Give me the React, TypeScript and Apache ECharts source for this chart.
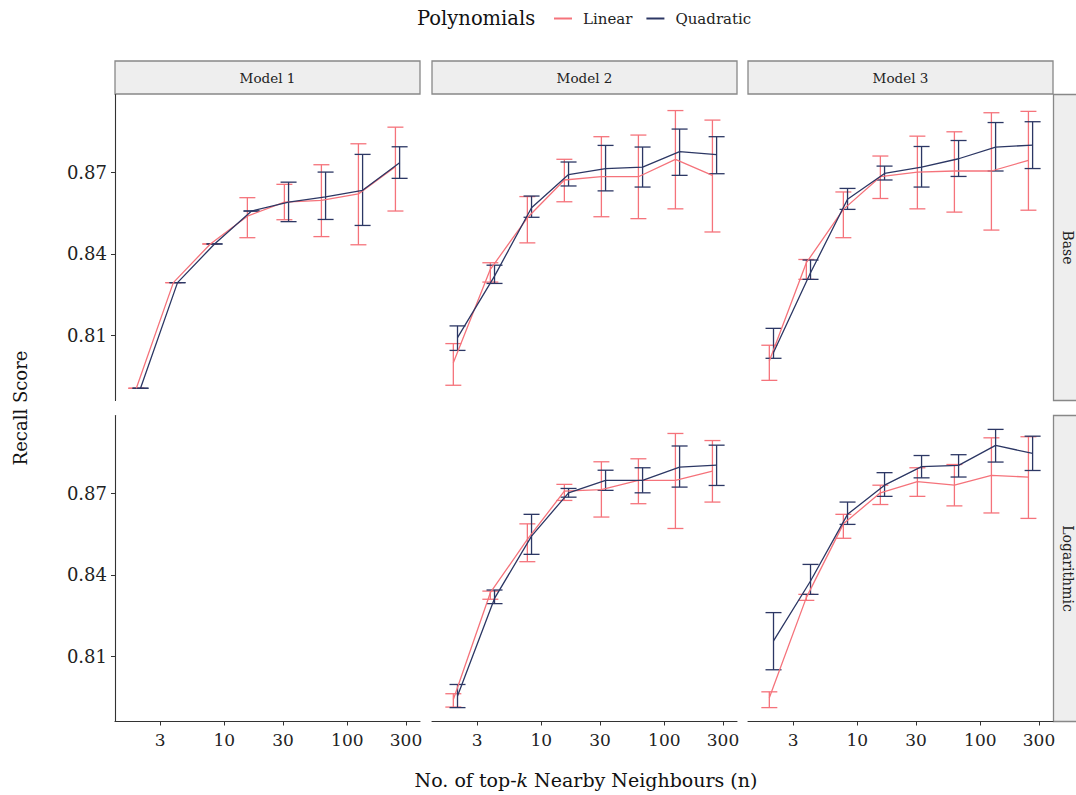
import React, { useEffect, useRef } from 'react';
import * as echarts from 'echarts';

const FONT = '"DejaVu Serif", "Liberation Serif", serif';

// ---- data ----
const kValues = [2, 4, 8, 16, 32, 64, 128, 256];
const modelNames = ['Model 1', 'Model 2', 'Model 3'];
const rowNames = ['Base', 'Logarithmic'];
const seriesNames = ['Linear', 'Quadratic'];
const seriesColors = ['#F5737B', '#2C3764'];
const xTickValues = [3, 10, 30, 100, 300];
const yTickValues = [0.81, 0.84, 0.87];
const xRangeK = [1.29, 390];
const yRange = [0.7861, 0.8985];

// Model 1 - Base
const m1BaseLinMean = [0.7906, 0.8294, 0.8436, 0.8538, 0.8590, 0.8596, 0.8620, 0.8720];
const m1BaseLinLo = [0.7906, 0.8294, 0.8436, 0.8459, 0.8525, 0.8463, 0.8433, 0.8557];
const m1BaseLinHi = [0.7906, 0.8294, 0.8436, 0.8606, 0.8655, 0.8727, 0.8804, 0.8865];
const m1BaseQuadMean = [0.7906, 0.8294, 0.8436, 0.8557, 0.8590, 0.8609, 0.8633, 0.8734];
const m1BaseQuadLo = [0.7906, 0.8294, 0.8436, 0.8557, 0.8518, 0.8526, 0.8504, 0.8677];
const m1BaseQuadHi = [0.7906, 0.8294, 0.8436, 0.8557, 0.8663, 0.8700, 0.8765, 0.8793];

// Model 2 - Base
const m2BaseLinMean = [0.8000, 0.8343, 0.8532, 0.8671, 0.8683, 0.8683, 0.8747, 0.8688];
const m2BaseLinLo = [0.7917, 0.8296, 0.8440, 0.8591, 0.8536, 0.8529, 0.8565, 0.8480];
const m2BaseLinHi = [0.8070, 0.8367, 0.8610, 0.8747, 0.8830, 0.8836, 0.8926, 0.8891];
const m2BaseQuadMean = [0.8092, 0.8318, 0.8569, 0.8691, 0.8713, 0.8718, 0.8775, 0.8764];
const m2BaseQuadLo = [0.8045, 0.8291, 0.8534, 0.8649, 0.8631, 0.8645, 0.8688, 0.8694];
const m2BaseQuadHi = [0.8135, 0.8358, 0.8612, 0.8737, 0.8798, 0.8792, 0.8858, 0.8830];

// Model 3 - Base
const m3BaseLinMean = [0.8006, 0.8367, 0.8563, 0.8683, 0.8700, 0.8704, 0.8704, 0.8743];
const m3BaseLinLo = [0.7935, 0.8306, 0.8459, 0.8603, 0.8565, 0.8553, 0.8487, 0.8560];
const m3BaseLinHi = [0.8064, 0.8379, 0.8627, 0.8759, 0.8832, 0.8848, 0.8918, 0.8923];
const m3BaseQuadMean = [0.8037, 0.8330, 0.8600, 0.8695, 0.8718, 0.8749, 0.8792, 0.8799];
const m3BaseQuadLo = [0.8016, 0.8306, 0.8563, 0.8671, 0.8645, 0.8684, 0.8704, 0.8713];
const m3BaseQuadHi = [0.8126, 0.8377, 0.8640, 0.8722, 0.8794, 0.8816, 0.8882, 0.8885];

// Model 2 - Logarithmic
const m2LogLinMean = [0.7942, 0.8334, 0.8530, 0.8707, 0.8713, 0.8747, 0.8747, 0.8781];
const m2LogLinLo = [0.7914, 0.8310, 0.8448, 0.8673, 0.8612, 0.8661, 0.8570, 0.8667];
const m2LogLinHi = [0.7963, 0.8340, 0.8587, 0.8732, 0.8815, 0.8826, 0.8919, 0.8893];
const m2LogQuadMean = [0.7955, 0.8313, 0.8542, 0.8701, 0.8747, 0.8747, 0.8795, 0.8803];
const m2LogQuadLo = [0.7912, 0.8294, 0.8475, 0.8685, 0.8710, 0.8701, 0.8722, 0.8728];
const m2LogQuadHi = [0.7997, 0.8344, 0.8622, 0.8717, 0.8784, 0.8793, 0.8873, 0.8876];

// Model 3 - Logarithmic
const m3LogLinMean = [0.7948, 0.8316, 0.8587, 0.8701, 0.8742, 0.8729, 0.8765, 0.8759];
const m3LogLinLo = [0.7912, 0.8306, 0.8534, 0.8658, 0.8688, 0.8653, 0.8627, 0.8607];
const m3LogLinHi = [0.7970, 0.8328, 0.8622, 0.8729, 0.8793, 0.8805, 0.8903, 0.8907];
const m3LogQuadMean = [0.8157, 0.8377, 0.8622, 0.8729, 0.8797, 0.8802, 0.8875, 0.8846];
const m3LogQuadLo = [0.8051, 0.8328, 0.8585, 0.8688, 0.8756, 0.8759, 0.8814, 0.8783];
const m3LogQuadHi = [0.8261, 0.8438, 0.8667, 0.8775, 0.8838, 0.8841, 0.8934, 0.8909];

type Stats = { mean: number[]; lo: number[]; hi: number[] };
type Panel = { row: number; col: number; groups: Stats[] | null };

const panels: Panel[] = [
  { row: 0, col: 0, groups: [
    { mean: m1BaseLinMean, lo: m1BaseLinLo, hi: m1BaseLinHi },
    { mean: m1BaseQuadMean, lo: m1BaseQuadLo, hi: m1BaseQuadHi }] },
  { row: 0, col: 1, groups: [
    { mean: m2BaseLinMean, lo: m2BaseLinLo, hi: m2BaseLinHi },
    { mean: m2BaseQuadMean, lo: m2BaseQuadLo, hi: m2BaseQuadHi }] },
  { row: 0, col: 2, groups: [
    { mean: m3BaseLinMean, lo: m3BaseLinLo, hi: m3BaseLinHi },
    { mean: m3BaseQuadMean, lo: m3BaseQuadLo, hi: m3BaseQuadHi }] },
  { row: 1, col: 0, groups: null },
  { row: 1, col: 1, groups: [
    { mean: m2LogLinMean, lo: m2LogLinLo, hi: m2LogLinHi },
    { mean: m2LogQuadMean, lo: m2LogQuadLo, hi: m2LogQuadHi }] },
  { row: 1, col: 2, groups: [
    { mean: m3LogLinMean, lo: m3LogLinLo, hi: m3LogLinHi },
    { mean: m3LogQuadMean, lo: m3LogQuadLo, hi: m3LogQuadHi }] },
];

// ---- layout ----
const COL_LEFT = [115, 432, 748];
const PANEL_W = 305;
const ROW_TOP = [94.5, 415.5];
const PANEL_H = 306;
const DODGE = 0.017; // decades, position dodge between groups
const CAP = 8;
const TEXT = '#222222';
const AXIS = '#333333';

function buildOption() {
  const grids: any[] = [];
  const xAxes: any[] = [];
  const yAxes: any[] = [];
  const series: any[] = [];
  const xMin = Math.log10(xRangeK[0]);
  const xMax = Math.log10(xRangeK[1]);
  const xTicks = xTickValues.map((v) => Math.log10(v));

  panels.forEach((p, i) => {
    grids.push({ left: COL_LEFT[p.col], top: ROW_TOP[p.row], width: PANEL_W, height: PANEL_H });
    const bottom = p.row === 1;
    const leftCol = p.col === 0;
    xAxes.push({
      gridIndex: i, type: 'value', min: xMin, max: xMax,
      axisLine: { show: bottom, onZero: false, lineStyle: { color: AXIS, width: 1.1 } },
      axisTick: { show: bottom, length: 4, customValues: xTicks, lineStyle: { color: AXIS } },
      axisLabel: {
        show: bottom, customValues: xTicks, margin: 10,
        fontFamily: FONT, fontSize: 17, color: TEXT,
        formatter: (v: number) => String(Math.round(Math.pow(10, v))),
      },
      splitLine: { show: false },
    });
    yAxes.push({
      gridIndex: i, type: 'value', min: yRange[0], max: yRange[1],
      axisLine: { show: leftCol, onZero: false, lineStyle: { color: AXIS, width: 1.1 } },
      axisTick: { show: leftCol, length: 4, customValues: yTickValues, lineStyle: { color: AXIS } },
      axisLabel: {
        show: leftCol, customValues: yTickValues, margin: 8,
        fontFamily: FONT, fontSize: 18, color: TEXT,
        formatter: (v: number) => v.toFixed(2),
      },
      splitLine: { show: false },
    });
  });

  // lines first (legend takes icon colour from these)
  panels.forEach((p, i) => {
    if (!p.groups) return;
    p.groups.forEach((g, gi) => {
      const off = gi === 0 ? -DODGE : DODGE;
      series.push({
        type: 'line', name: seriesNames[gi], xAxisIndex: i, yAxisIndex: i,
        data: kValues.map((k, j) => [Math.log10(k) + off, g.mean[j]]),
        symbol: 'none', showSymbol: false, z: 4 + gi,
        lineStyle: { color: seriesColors[gi], width: 1.3 },
        itemStyle: { color: seriesColors[gi] },
      });
    });
  });
  panels.forEach((p, i) => {
    if (!p.groups) return;
    p.groups.forEach((g, gi) => {
      const off = gi === 0 ? -DODGE : DODGE;
      const color = seriesColors[gi];
      series.push({
        type: 'custom', name: seriesNames[gi], xAxisIndex: i, yAxisIndex: i,
        z: 2 + gi,
        encode: { x: 0, y: [1, 2] },
        data: kValues.map((k, j) => [Math.log10(k) + off, g.lo[j], g.hi[j]]),
        itemStyle: { color },
        renderItem: (params: any, api: any) => {
          const x = api.value(0);
          const top = api.coord([x, api.value(2)]);
          const bot = api.coord([x, api.value(1)]);
          const style = { stroke: color, lineWidth: 1.3, fill: null };
          return {
            type: 'group',
            children: [
              { type: 'line', shape: { x1: top[0], y1: top[1], x2: bot[0], y2: bot[1] }, style },
              { type: 'line', shape: { x1: top[0] - CAP, y1: top[1], x2: top[0] + CAP, y2: top[1] }, style },
              { type: 'line', shape: { x1: bot[0] - CAP, y1: bot[1], x2: bot[0] + CAP, y2: bot[1] }, style },
            ],
          };
        },
      });
    });
  });

  const graphics: any[] = [];
  const STRIP_FILL = '#EEEEEE';
  const STRIP_STROKE = '#888888';
  modelNames.forEach((name, c) => {
    graphics.push({
      type: 'rect', shape: { x: COL_LEFT[c], y: 61, width: PANEL_W, height: 33 },
      style: { fill: STRIP_FILL, stroke: STRIP_STROKE, lineWidth: 1.3 },
    });
    graphics.push({
      type: 'text', x: COL_LEFT[c] + PANEL_W / 2, y: 78,
      style: { text: name, fontFamily: FONT, fontSize: 13.5, fill: TEXT, textAlign: 'center', textVerticalAlign: 'middle' },
    });
  });
  rowNames.forEach((name, r) => {
    graphics.push({
      type: 'rect', shape: { x: 1053.5, y: ROW_TOP[r], width: 40, height: PANEL_H },
      style: { fill: STRIP_FILL, stroke: STRIP_STROKE, lineWidth: 1.3 },
    });
    graphics.push({
      type: 'text', x: 1068, y: ROW_TOP[r] + PANEL_H / 2, rotation: -Math.PI / 2,
      style: { text: name, fontFamily: FONT, fontSize: 14, fill: TEXT, textAlign: 'center', textVerticalAlign: 'middle' },
    });
  });
  graphics.push({
    type: 'text', x: 417, y: 18,
    style: { text: 'Polynomials', fontFamily: FONT, fontSize: 19.5, fill: '#111', textAlign: 'left', textVerticalAlign: 'middle' },
  });
  graphics.push({
    type: 'text', x: 20, y: 408, rotation: Math.PI / 2,
    style: { text: 'Recall Score', fontFamily: FONT, fontSize: 18, fill: '#111', textAlign: 'center', textVerticalAlign: 'middle' },
  });
  graphics.push({
    type: 'text', x: 586, y: 780,
    style: {
      text: '{a|No. of top-}{k|k}{a| Nearby Neighbours (n)}',
      textAlign: 'center', textVerticalAlign: 'middle',
      rich: {
        a: { fontFamily: FONT, fontSize: 19, fill: '#111' },
        k: { fontFamily: FONT, fontSize: 19, fill: '#111', fontStyle: 'italic' },
      },
    },
  });

  return {
    animation: false,
    backgroundColor: '#ffffff',
    grid: grids,
    xAxis: xAxes,
    yAxis: yAxes,
    legend: {
      data: seriesNames,
      left: 549, top: 6,
      icon: 'rect', itemWidth: 18, itemHeight: 2, itemGap: 14,
      textStyle: { fontFamily: FONT, fontSize: 15, color: TEXT, padding: [0, 0, 0, 6] },
      selectedMode: false,
    },
    series,
    graphic: graphics,
  };
}

export default function App() {
  const ref = useRef<HTMLDivElement>(null);
  useEffect(() => {
    if (!ref.current) return;
    const chart = echarts.init(ref.current, undefined, { renderer: 'svg' });
    chart.setOption(buildOption() as any);
    return () => chart.dispose();
  }, []);
  return (
    <div
      ref={ref}
      style={{ position: 'fixed', left: 0, top: 0, width: 1076, height: 795, background: '#fff' }}
    />
  );
}
